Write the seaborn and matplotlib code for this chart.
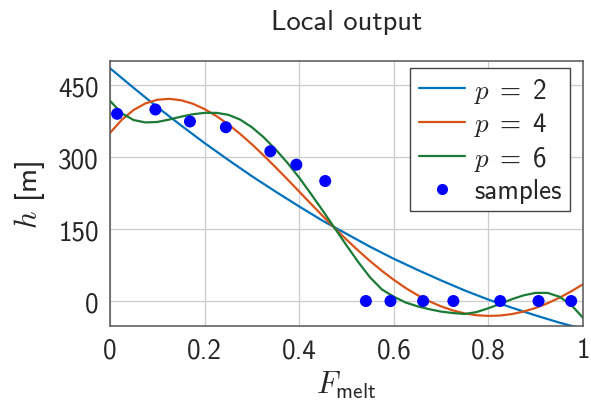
import matplotlib
matplotlib.use("Agg")
import matplotlib.pyplot as plt
import seaborn as sns
import pandas as pd
from matplotlib.lines import Line2D

# ---------------- data ----------------
sample_x = [0.015, 0.096, 0.169, 0.245, 0.339, 0.394, 0.455,
            0.541, 0.593, 0.662, 0.726, 0.825, 0.906, 0.975]
sample_h = [390, 399, 374, 362, 312, 284, 250,
            0, 0, 0, 0, 0, 0, 0]

p2_x = [0.0, 0.05, 0.1, 0.15, 0.2, 0.25, 0.3, 0.35, 0.4, 0.45, 0.5,
        0.55, 0.6, 0.65, 0.7, 0.75, 0.8, 0.85, 0.9, 0.95, 1.0]
p2_h = [485, 444, 404, 366, 329, 294, 260, 228, 197, 167, 140,
        113, 88, 65, 43, 22, 3, -14, -30, -45, -58]

p4_x = [0.0, 0.025, 0.05, 0.075, 0.1, 0.125, 0.15, 0.175, 0.2, 0.225,
        0.25, 0.275, 0.3, 0.325, 0.35, 0.375, 0.4, 0.425, 0.45, 0.475,
        0.5, 0.525, 0.55, 0.575, 0.6, 0.625, 0.65, 0.675, 0.7, 0.725,
        0.75, 0.775, 0.8, 0.825, 0.85, 0.875, 0.9, 0.925, 0.95, 0.975, 1.0]
p4_h = [350, 377.7, 398.0, 411.7, 419.2, 421.2, 418.3, 411.0, 399.8, 385.3,
        368.0, 348.2, 326.5, 303.2, 278.8, 253.6, 228.0, 202.4, 176.9, 152.1,
        127.9, 104.9, 83.1, 62.8, 44.1, 27.2, 12.3, -0.5, -11.1, -19.6,
        -25.8, -29.6, -31.0, -30.2, -27.1, -21.8, -14.3, -4.7, 6.8, 20.1, 35]

p6_x = [0.0, 0.025, 0.05, 0.075, 0.1, 0.125, 0.15, 0.175, 0.2, 0.225,
        0.25, 0.275, 0.3, 0.325, 0.35, 0.375, 0.4, 0.425, 0.45, 0.475,
        0.5, 0.525, 0.55, 0.575, 0.6, 0.625, 0.65, 0.675, 0.7, 0.725,
        0.75, 0.775, 0.8, 0.825, 0.85, 0.875, 0.9, 0.925, 0.95, 0.975, 1.0]
p6_h = [417, 391, 377, 372, 373, 378, 384, 389, 392, 392,
        388, 378, 362, 341, 316, 288, 257, 223, 188, 152,
        116, 81, 49, 24, 9, -3, -11, -17, -22, -25,
        -27, -23, -15, -6, 4, 12, 17, 17, 9, -8, -35]

series_labels = [r"$p \;=\; 2$", r"$p \;=\; 4$", r"$p \;=\; 6$"]
sample_label = "samples"
x_ticks = [0, 0.2, 0.4, 0.6, 0.8, 1.0]
x_tick_labels = ["0", "0.2", "0.4", "0.6", "0.8", "1"]
y_ticks = [0, 150, 300, 450]
y_tick_labels = ["0", "150", "300", "450"]
title = "Local output"
x_label = r"$F_{\mathsf{melt}}$"
y_label = r"$h$ [m]"

# ---------------- style ----------------
sns.set_theme(style="whitegrid")
plt.rcParams["font.family"] = ["cmss10", "DejaVu Sans"]
plt.rcParams["mathtext.fontset"] = "custom"
plt.rcParams["mathtext.rm"] = "cmss10"
plt.rcParams["mathtext.sf"] = "cmss10"
plt.rcParams["mathtext.it"] = "cmmi10"
plt.rcParams["mathtext.bf"] = "cmb10"
plt.rcParams["mathtext.fallback"] = "cm"
plt.rcParams["axes.unicode_minus"] = False
plt.rcParams["axes.formatter.use_mathtext"] = True

colors = ["#0072BD", "#D95319", "#1B7A35"]

frames = []
for lab, xs, hs in zip(series_labels, [p2_x, p4_x, p6_x], [p2_h, p4_h, p6_h]):
    frames.append(pd.DataFrame({"x": xs, "h": hs, "series": lab}))
curves = pd.concat(frames, ignore_index=True)
samples = pd.DataFrame({"x": sample_x, "h": sample_h})

fig = plt.figure(figsize=(5.91, 4.02), dpi=100)
ax = fig.add_axes([110 / 591, 1 - 327 / 402, 473 / 591, 265 / 402])

sns.lineplot(data=curves, x="x", y="h", hue="series",
             palette=dict(zip(series_labels, colors)),
             linewidth=1.6, ax=ax, legend=False, sort=False)
sns.scatterplot(data=samples, x="x", y="h", color="#0000FF", s=75,
                edgecolor="none", ax=ax, legend=False, zorder=5)

ax.set_xlim(0, 1)
ax.set_ylim(-52, 500)
ax.set_xticks(x_ticks)
ax.set_xticklabels(x_tick_labels)
ax.set_yticks(y_ticks)
ax.set_yticklabels(y_tick_labels)
ax.tick_params(axis="both", labelsize=19.5, direction="in", length=5,
               color="#999999", width=0.8, pad=8)
ax.grid(True, color="#cccccc", linewidth=0.9)
for sp in ax.spines.values():
    sp.set_color("#555555")
    sp.set_linewidth(1.1)

ax.set_title(title, fontsize=20.5, pad=23)
ax.set_xlabel(x_label, fontsize=22, labelpad=5)
ax.set_ylabel(y_label, fontsize=22, labelpad=8)

handles = [Line2D([0], [0], color=c, lw=1.6) for c in colors]
handles.append(Line2D([0], [0], marker="o", color="none",
                      markerfacecolor="#0000FF", markeredgecolor="none",
                      markersize=8))
leg = ax.legend(handles, series_labels + [sample_label], loc="upper right",
                bbox_to_anchor=(0.972, 0.975), fontsize=19.5, frameon=True,
                fancybox=False, edgecolor="#444444", framealpha=1,
                handlelength=1.7, labelspacing=0.2, borderpad=0.3,
                handletextpad=0.35, borderaxespad=0.0)
leg.get_frame().set_linewidth(1.0)

fig.savefig("out.png", dpi=100)
